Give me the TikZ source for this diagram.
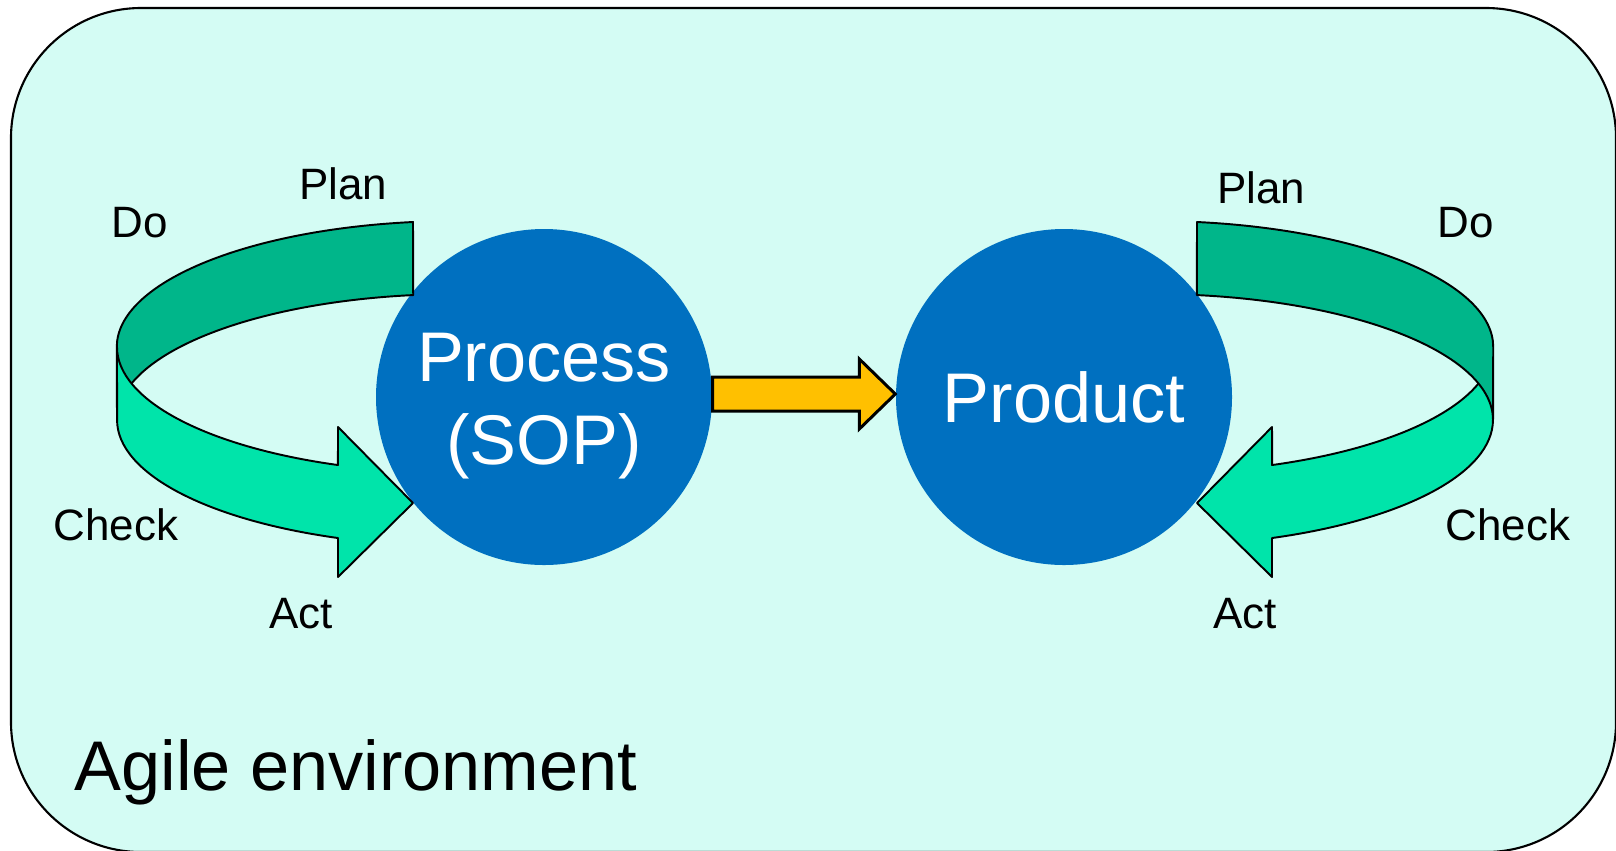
\documentclass[tikz,border=0pt]{standalone}
\usepackage{fontspec}
\setmainfont{Liberation Sans}
\usetikzlibrary{calc}

\definecolor{envbg}{RGB}{212,252,244}
\definecolor{sopblue}{RGB}{0,112,192}
\definecolor{bandback}{RGB}{0,182,138}
\definecolor{bandfront}{RGB}{0,228,170}
\definecolor{flowgold}{RGB}{255,192,0}

\begin{document}
\begin{tikzpicture}[x=0.1mm,y=0.1mm]
\tikzstyle{every node}+=[inner sep=0pt]
\tikzstyle{lbl}=[anchor=base,font=\fontsize{12.5}{15}\selectfont]
\tikzstyle{bigtxt}=[text=white,align=center,font=\fontsize{20}{23.6}\selectfont]
\tikzstyle{bigdisc}=[circle,minimum size=33.6mm,fill=sopblue,bigtxt]
\tikzstyle{band}=[draw=black,line width=0.55pt,line join=round]
\useasboundingbox (0,0) rectangle (1616,-850);
\clip (0,0) rectangle (1616,-850);
\draw [fill=envbg,line width=0.6pt,rounded corners=13mm] (11,-8) rectangle (1616,-852);
\draw (74,-790) node [anchor=base west,font=\fontsize{20}{24}\selectfont] (env) {Agile environment};
\draw (544,-397) node [bigdisc] (proc) {};
\draw (544,-406) node [bigtxt] (proctxt) {Process\\(SOP)};
\draw (1064,-397) node [bigdisc] (prod) {Product};
% left loop: back face, then front face with head
\draw [band,fill=bandback] (413,-222) arc [start angle=97.4,end angle=180,x radius=340,y radius=126] -- (117,-420) arc [start angle=180,end angle=97.4,x radius=340,y radius=126] -- cycle;
\draw [band,fill=bandfront] (117,-347) arc [start angle=180,end angle=249.5,x radius=340,y radius=126] -- (338,-427) -- (413,-503) -- (338,-577) -- (338,-538) arc [start angle=249.5,end angle=180,x radius=340,y radius=126] -- cycle;
% right loop: front face first, back face over it
\draw [band,fill=bandfront] (1493,-347) arc [start angle=0,end angle=-69.5,x radius=340,y radius=126] -- (1272,-427) -- (1197,-503) -- (1272,-577) -- (1272,-538) arc [start angle=-69.5,end angle=0,x radius=340,y radius=126] -- cycle;
\draw [band,fill=bandback] (1197,-222) arc [start angle=82.6,end angle=0,x radius=340,y radius=126] -- (1493,-420) arc [start angle=0,end angle=82.6,x radius=340,y radius=126] -- cycle;
% process -> product
\draw [fill=flowgold,line width=0.85pt] ($(proc.east)+(0,20)$) -- ($(prod.west)+(-36,20)$) -- ($(prod.west)+(-36,38)$) -- ($(prod.west)+(0,3)$) -- ($(prod.west)+(-36,-32)$) -- ($(prod.west)+(-36,-14)$) -- ($(proc.east)+(0,-14)$) -- cycle;
\draw (343,-199) node [lbl] (lplan) {Plan};
\draw (140,-237) node [lbl] (ldo) {Do};
\draw (116,-540) node [lbl] (lcheck) {Check};
\draw (301,-628) node [lbl] (lact) {Act};
\draw (1261,-203) node [lbl] (rplan) {Plan};
\draw (1466,-237) node [lbl] (rdo) {Do};
\draw (1508,-540) node [lbl] (rcheck) {Check};
\draw (1245,-628) node [lbl] (ract) {Act};
\end{tikzpicture}
\end{document}
